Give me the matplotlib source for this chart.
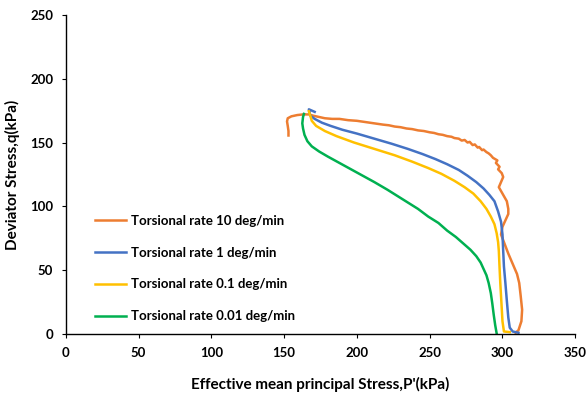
import matplotlib
matplotlib.use("Agg")
import matplotlib.pyplot as plt

# stress paths: p' (kPa), q (kPa)
p_10 = [309, 311, 313, 313.5, 312.5, 311.5, 310, 307, 304, 301, 299, 300, 302, 304, 304,
        303, 300, 297.5, 299, 300.5, 299.5, 297, 298, 295.5, 296.5, 293.5, 292, 290.5,
        289, 287, 286, 284, 283, 281, 279.5, 277.5, 276, 274, 272, 270, 267, 265, 262,
        259, 256, 253, 250, 246, 242, 238, 234, 230, 226, 222, 218, 212, 206, 200, 194,
        188, 183, 178, 174, 170, 167, 163, 159, 155, 152.5, 152, 152.5, 153, 153]
q_10 = [1, 3, 10, 19, 30, 40, 47, 55, 63, 72, 78, 84, 89, 94, 98,
        104, 110, 115, 119, 123, 126, 129, 131, 134, 136, 138, 140, 141.5,
        142.5, 144.5, 144, 146.5, 146, 148.5, 148, 150.5, 150, 152, 151.5, 153, 153.5, 154.5, 155,
        156, 156.5, 157.5, 158, 159, 159.5, 160.5, 161, 162, 162.5, 163.5, 164, 165, 166, 167, 167.5,
        168.5, 168.5, 169, 170, 171, 172, 172, 171.5, 170.5, 169, 166.5, 163, 159, 155.5]

p_1 = [311, 307, 305, 304, 303, 302, 301, 300.5, 300, 299, 297, 294.5, 291, 287, 282,
       276, 270, 262, 254, 245, 235, 224, 212, 200, 190, 182, 176, 171, 168, 167, 169, 171]
q_1 = [1, 2, 5, 13, 26, 40, 53, 65, 78, 88, 96, 104, 109, 114, 119,
       124, 128.5, 133, 137, 141, 145, 149, 153, 157, 160, 163, 165.5, 168.5, 171, 176, 175, 174]

p_01 = [305, 301, 300, 299.5, 299, 298.5, 298, 297.5, 297, 296, 294.5, 292, 289, 285,
        280, 274, 267, 258, 249, 238, 226, 212, 198, 186, 178, 172, 169, 168, 167]
q_01 = [1.5, 2, 10, 20, 30, 40, 52, 65, 72, 79, 86, 92, 98, 104,
        110, 115, 120, 125.5, 130, 135, 140, 145, 150, 155, 159, 163, 167, 171, 174.5]

p_001 = [296, 295, 294, 293, 292, 290.5, 289, 287, 285, 282, 278, 273, 268, 262, 256,
         249, 242, 235, 228, 221, 212, 204, 196, 188, 180, 174, 169, 166, 164, 163, 162.5,
         163, 163.6]
q_001 = [0.5, 7, 15, 24, 32, 40, 46, 51, 56, 61, 66, 71, 76, 81, 87,
         92, 98, 103, 108, 113, 119, 124, 129, 134, 139, 143, 147, 151, 156, 161, 165,
         170, 172.4]

labels = ["Torsional rate 10 deg/min", "Torsional rate 1 deg/min",
          "Torsional rate 0.1 deg/min", "Torsional rate 0.01 deg/min"]
colors = ["#ED7D31", "#4472C4", "#FFC000", "#00B050"]

plt.rcParams['font.family'] = ['Lato', 'DejaVu Sans']
plt.rcParams['font.weight'] = 'bold'

fig = plt.figure(figsize=(5.87, 4.01), dpi=100)
ax = fig.add_axes([0.112, 0.167, 0.868, 0.796])

series = [(p_10, q_10), (p_1, q_1), (p_01, q_01), (p_001, q_001)]
for (px, qy), lab, c in zip(series, labels, colors):
    ax.plot(px, qy, color=c, lw=1.8, label=lab, solid_joinstyle='round')

ax.set_xlim(0, 350)
ax.set_ylim(0, 250)
ax.set_xticks(range(0, 351, 50))
ax.set_yticks(range(0, 251, 50))
for s in ['top', 'right']:
    ax.spines[s].set_visible(False)
for s in ['left', 'bottom']:
    ax.spines[s].set_linewidth(1.0)
ax.tick_params(axis='both', labelsize=9.5, length=3, width=0.8, pad=6)
for t in ax.get_xticklabels() + ax.get_yticklabels():
    t.set_fontweight('bold')

ax.set_xlabel("Effective mean principal Stress,P'(kPa)", fontsize=11,
              fontweight='bold', labelpad=13)
ax.set_ylabel("Deviator Stress,q(kPa)", fontsize=11, fontweight='bold', labelpad=7)

leg = ax.legend(loc='lower left', bbox_to_anchor=(0.035, 0.0), frameon=False,
                fontsize=9.5, labelspacing=1.5, handlelength=2.3, handletextpad=0.4)
for t in leg.get_texts():
    t.set_fontweight('bold')

fig.savefig("out.png", dpi=100)
